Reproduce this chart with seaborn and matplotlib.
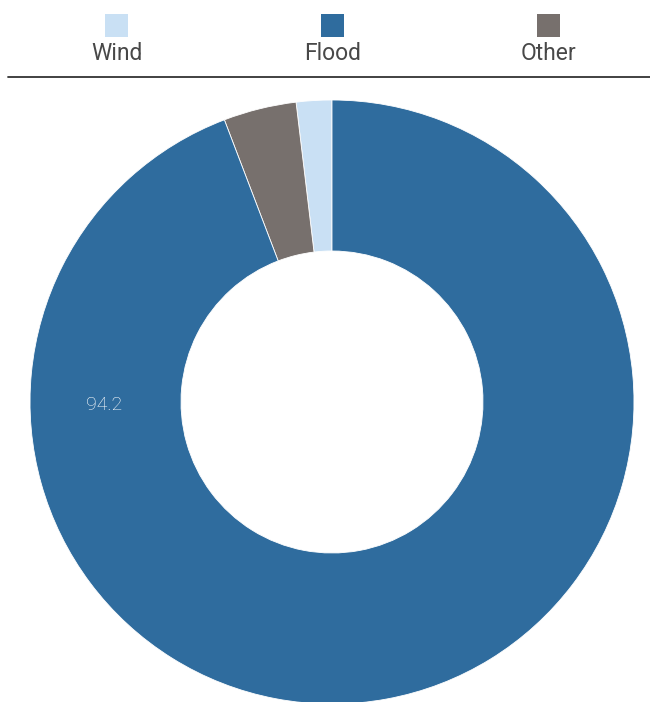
import matplotlib
matplotlib.use("Agg")
import matplotlib.pyplot as plt
from matplotlib.patches import Rectangle
from matplotlib.lines import Line2D
import seaborn as sns

categories = ["Wind", "Flood", "Other"]
values = [1.9, 94.2, 3.9]
colors = ["#c9e0f4", "#2f6c9e", "#77706d"]
label_text = "94.2"

sns.set_theme(style="white")
plt.rcParams["font.family"] = ["Roboto", "DejaVu Sans"]

W, H = 650, 702
fig = plt.figure(figsize=(W / 100, H / 100), dpi=100)

# Pie axes: center (332, 402) px from top, radius 302 px
cx, cy, r = 332, 402, 302
ax = fig.add_axes([(cx - r) / W, (H - cy - r) / H, 2 * r / W, 2 * r / H])

# Drawing order: counter-clockwise from top -> Wind, Other, Flood
order = [0, 2, 1]
ax.pie([values[i] for i in order], colors=[colors[i] for i in order],
       startangle=90, counterclock=True, radius=1,
       wedgeprops=dict(width=0.5, edgecolor="white", linewidth=0.6))
ax.set_xlim(-1, 1)
ax.set_ylim(-1, 1)
ax.set_aspect("equal")
ax.axis("off")

ax.text(-0.755, -0.01, label_text, color="white", fontsize=14,
        fontweight="light", ha="center", va="center")

# Legend: squares above labels
centers = [116.5, 332.5, 548.5]
sq = 23
for x, name, c in zip(centers, categories, colors):
    fig.patches.append(Rectangle(((x - sq / 2) / W, 1 - (14 + sq) / H),
                                 sq / W, sq / H, transform=fig.transFigure,
                                 facecolor=c, edgecolor="none"))
    fig.text(x / W, 1 - 54 / H, name, ha="center", va="center",
             fontsize=16.5, fontweight="normal", color="#484848")

fig.lines.append(Line2D([8 / W, 1], [1 - 77 / H, 1 - 77 / H],
                        transform=fig.transFigure, color="#333333", linewidth=1.3))

fig.savefig("out.png", dpi=100, facecolor="white")
